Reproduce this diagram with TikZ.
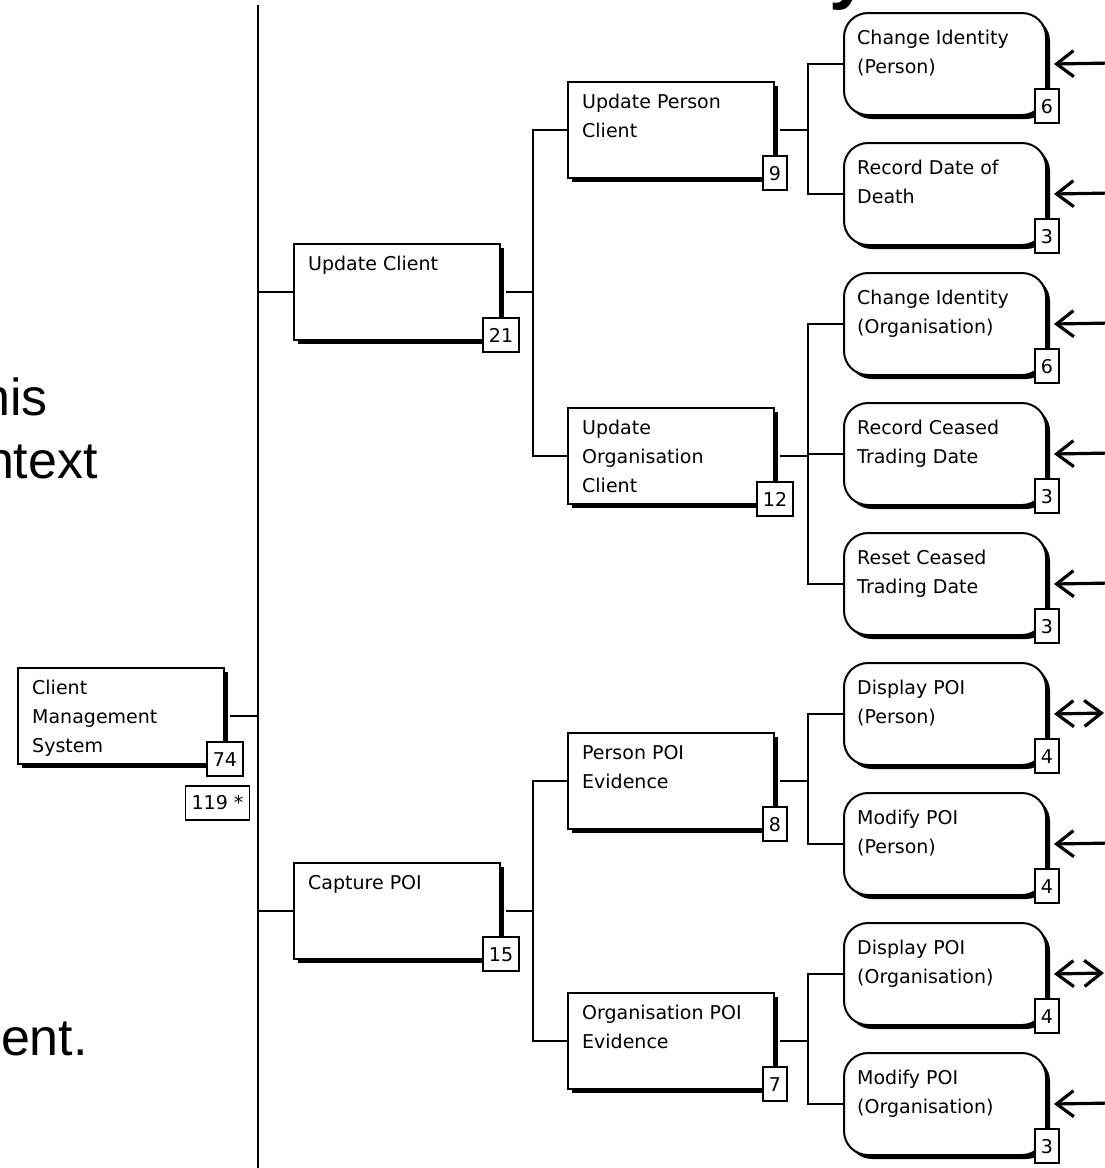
\documentclass[tikz,border=0pt]{standalone}
\usepackage{fontspec}
\setmainfont{DejaVu Sans}
\newfontfamily\bigfont{Liberation Sans}
\usetikzlibrary{arrows.meta}
\newcommand\boxfont{\fontsize{19}{29}\selectfont}
\tikzset{
 tree/.style={line width=2pt},
 procbox/.style={draw, line width=2pt, fill=white, minimum width=206pt, minimum height=96pt, inner sep=0pt, anchor=north west},
 leafbox/.style={draw, line width=2pt, fill=white, rounded corners=24pt, minimum width=202pt, minimum height=102pt, inner sep=0pt, anchor=north west},
 boxlabel/.style={anchor=north west, align=left, inner sep=0pt, font=\boxfont},
 numbox/.style={draw, line width=1.6pt, fill=white, minimum height=34pt, inner xsep=6pt, inner ysep=0pt, font=\boxfont},
 inarrow/.style={line width=3.2pt, -{Straight Barb[length=17pt,width=26pt]}},
 bothoarrow/.style={line width=3.2pt, {Straight Barb[length=17pt,width=26pt]}-{Straight Barb[length=17pt,width=26pt]}},
 bigtext/.style={inner sep=0pt, font=\bigfont\fontsize{52}{62}\selectfont},
}
\newcommand\procnode[5]{%
  \fill (#2+5,#3+5) rectangle ++(206,96);
  \node[procbox] (#1) at (#2,#3) {};
  \node[boxlabel] (#1-t) at (#2+15,#3+13) {#4};
  \node[numbox, anchor=south] (#1-n) at ([yshift=-12pt]#1.south east) {#5};
}
\newcommand\leafnode[4]{%
  \fill[rounded corners=24pt] (848,#2+5) rectangle ++(202,102);
  \node[leafbox] (#1) at (843,#2) {};
  \node[boxlabel] (#1-t) at (857,#2+18) {#3};
  \node[numbox, anchor=south] (#1-n) at ([yshift=-8pt]#1.south east) {#4};
  \coordinate (#1-a) at (1112,#2+51);
}
\begin{document}
\begin{tikzpicture}[x=1pt,y=-1pt]
\useasboundingbox (0,0) rectangle (1105,1168);
\clip (0,0) rectangle (1105,1168);
\fill[white] (0,0) rectangle (1105,1168);

% slide text fragments
\node[bigtext, anchor=base east] (t1) at (48,415) {his};
\node[bigtext, anchor=base east] (t2) at (98,478) {ntext};
\node[bigtext, anchor=base east] (t3) at (88,1055) {ent.};
\node[inner sep=0pt, anchor=base west, font=\bigfont\bfseries\fontsize{72}{76}\selectfont] (ty) at (829,-5) {y};

% process boxes
\procnode{cms}{17}{667}{Client\\Management\\System}{74}
\node[numbox] (n119) at (217.5,803) {119 *};
\procnode{uc}{293}{243}{Update Client}{21}
\procnode{cp}{293}{862}{Capture POI}{15}
\procnode{upc}{567}{81}{Update Person\\Client}{9}
\procnode{uoc}{567}{407}{Update\\Organisation\\Client}{12}
\procnode{ppe}{567}{732}{Person POI\\Evidence}{8}
\procnode{ope}{567}{992}{Organisation POI\\Evidence}{7}

% leaves
\leafnode{l1}{12}{Change Identity\\(Person)}{6}
\leafnode{l2}{142}{Record Date of\\Death}{3}
\leafnode{l3}{272}{Change Identity\\(Organisation)}{6}
\leafnode{l4}{402}{Record Ceased\\Trading Date}{3}
\leafnode{l5}{532}{Reset Ceased\\Trading Date}{3}
\leafnode{l6}{662}{Display POI\\(Person)}{4}
\leafnode{l7}{792}{Modify POI\\(Person)}{4}
\leafnode{l8}{922}{Display POI\\(Organisation)}{4}
\leafnode{l9}{1052}{Modify POI\\(Organisation)}{3}

% tree lines
\coordinate (mtop) at (258,5);
\coordinate (mbot) at (258,1175);
\coordinate (bA) at (533,0);
\coordinate (bB) at (808,0);
\draw[tree] (mtop) -- (mbot);
\draw[tree] ([xshift=5pt]cms.east) -- (cms.east -| mtop);
\draw[tree] (uc.west) -- (uc.west -| mtop);
\draw[tree] (cp.west) -- (cp.west -| mtop);

\draw[tree] ([xshift=5pt]uc.east) -- (uc.east -| bA);
\draw[tree] (upc.west) -- (upc.west -| bA) -- (uoc.west -| bA) -- (uoc.west);
\draw[tree] ([xshift=5pt]cp.east) -- (cp.east -| bA);
\draw[tree] (ppe.west) -- (ppe.west -| bA) -- (ope.west -| bA) -- (ope.west);

\draw[tree] ([xshift=5pt]upc.east) -- (upc.east -| bB);
\draw[tree] (l1.west) -- (l1.west -| bB) -- (l2.west -| bB) -- (l2.west);
\draw[tree] ([xshift=5pt]uoc.east) -- (uoc.east -| bB);
\draw[tree] (l3.west) -- (l3.west -| bB) -- (l5.west -| bB) -- (l5.west);
\draw[tree] (l4.west) -- (l4.west -| bB);
\draw[tree] ([xshift=5pt]ppe.east) -- (ppe.east -| bB);
\draw[tree] (l6.west) -- (l6.west -| bB) -- (l7.west -| bB) -- (l7.west);
\draw[tree] ([xshift=5pt]ope.east) -- (ope.east -| bB);
\draw[tree] (l8.west) -- (l8.west -| bB) -- (l9.west -| bB) -- (l9.west);

% external arrows
\draw[inarrow] (l1-a) -- ([xshift=7pt]l1.east);
\draw[inarrow] (l2-a) -- ([xshift=7pt]l2.east);
\draw[inarrow] (l3-a) -- ([xshift=7pt]l3.east);
\draw[inarrow] (l4-a) -- ([xshift=7pt]l4.east);
\draw[inarrow] (l5-a) -- ([xshift=7pt]l5.east);
\draw[bothoarrow] ([xshift=-8pt]l6-a) -- ([xshift=7pt]l6.east);
\draw[inarrow] (l7-a) -- ([xshift=7pt]l7.east);
\draw[bothoarrow] ([xshift=-8pt]l8-a) -- ([xshift=7pt]l8.east);
\draw[inarrow] (l9-a) -- ([xshift=7pt]l9.east);
\end{tikzpicture}
\end{document}
